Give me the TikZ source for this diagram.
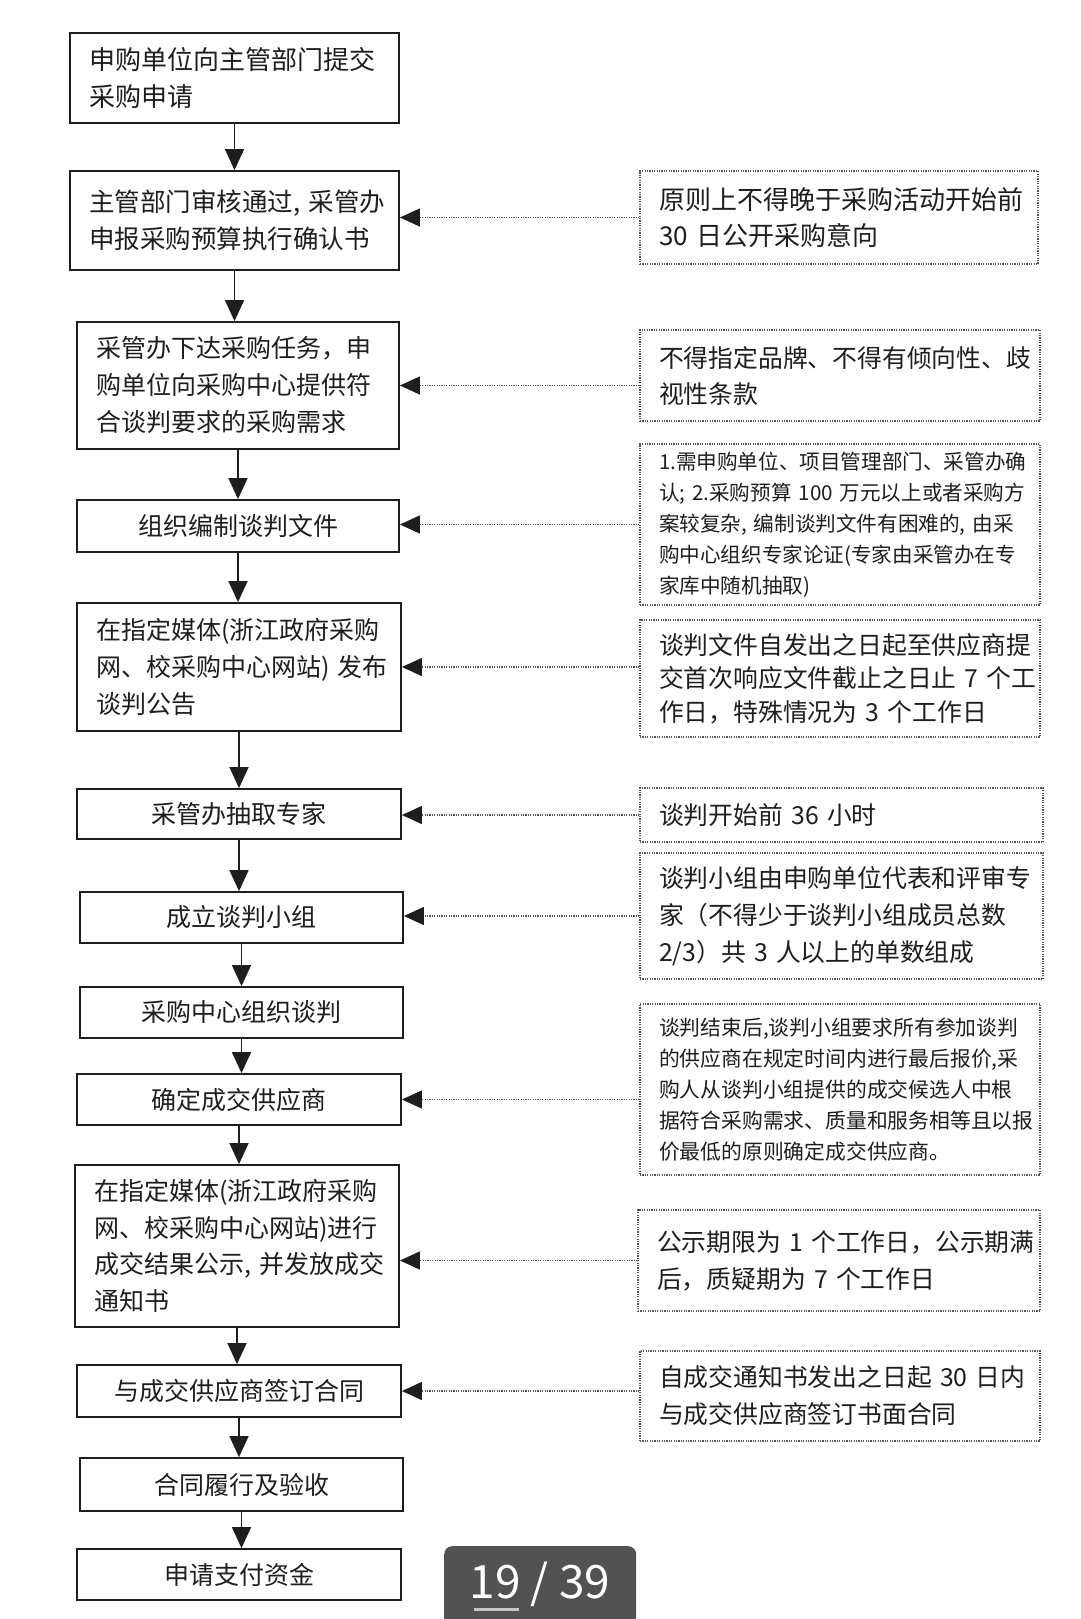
\documentclass[tikz,border=0pt]{standalone}
\usepackage{fontspec}
\setmainfont{Noto Sans CJK SC}
\usetikzlibrary{arrows.meta}
\definecolor{ink}{HTML}{1E1E1E}
\definecolor{dotc}{HTML}{555555}
\definecolor{pagebg}{HTML}{525252}
\tikzset{
  stepbox/.style={draw=ink, line width=1.8pt, text=ink, inner xsep=19pt, inner ysep=0pt, align=left, font=\fontsize{25}{37}\selectfont},
  onebox/.style={draw=ink, line width=1.8pt, text=ink, inner sep=0pt, align=center, font=\fontsize{25}{30}\selectfont},
  note/.style={draw=dotc, line width=1.2pt, dash pattern=on 1.2pt off 1.2pt, text=ink, inner xsep=19pt, inner ysep=0pt, align=left},
  flow/.style={draw=ink, line width=1.6pt, -{Triangle[length=21pt,width=19pt]}},
  link/.style={draw=dotc, line width=1.2pt, dash pattern=on 1.2pt off 1.2pt, -{Triangle[length=20pt,width=18pt,color=ink]}}
}
\begin{document}
\begin{tikzpicture}[x=1pt,y=-1pt]
\useasboundingbox (0,0) rectangle (1080,1619);
\fill[white] (0,0) rectangle (1080,1619);

% main steps
\node[stepbox, minimum width=329pt, minimum height=90pt, text width=291pt, font=\fontsize{26}{37}\selectfont] (b1) at (234.5,78) {申购单位向主管部门提交\\采购申请};
\node[stepbox, minimum width=329pt, minimum height=99pt, text width=291pt, font=\fontsize{25.5}{37}\selectfont] (b2) at (234.5,220.5) {主管部门审核通过,~采管办\\申报采购预算执行确认书};
\node[stepbox, minimum width=322pt, minimum height=127pt, text width=284pt] (b3) at (238,385.5) {采管办下达采购任务，申\\购单位向采购中心提供符\\合谈判要求的采购需求};
\node[onebox, minimum width=322pt, minimum height=52pt] (b4) at (238,526) {组织编制谈判文件};
\node[stepbox, minimum width=324pt, minimum height=128pt, text width=286pt] (b5) at (239,667) {在指定媒体(浙江政府采购\\网、校采购中心网站)~发布\\谈判公告};
\node[onebox, minimum width=324pt, minimum height=50pt] (b6) at (239,814) {采管办抽取专家};
\node[onebox, minimum width=323pt, minimum height=51pt] (b7) at (241.5,917.5) {成立谈判小组};
\node[onebox, minimum width=323pt, minimum height=51pt] (b8) at (241.5,1012.5) {采购中心组织谈判};
\node[onebox, minimum width=324pt, minimum height=51pt] (b9) at (239,1099.5) {确定成交供应商};
\node[stepbox, minimum width=324pt, minimum height=162pt, text width=286pt, font=\fontsize{25}{36.5}\selectfont] (b10) at (237,1246) {在指定媒体(浙江政府采购\\网、校采购中心网站)进行\\成交结果公示,~并发放成交\\通知书};
\node[onebox, minimum width=324pt, minimum height=52pt] (b11) at (239,1391) {与成交供应商签订合同};
\node[onebox, minimum width=323pt, minimum height=53pt] (b12) at (241.5,1484.5) {合同履行及验收};
\node[onebox, minimum width=324pt, minimum height=51pt] (b13) at (239,1574.5) {申请支付资金};

% notes
\node[note, minimum width=398pt, minimum height=93pt, text width=360pt, font=\fontsize{26}{36}\selectfont] (n1) at (839,217.5) {原则上不得晚于采购活动开始前\\30~日公开采购意向};
\node[note, minimum width=400pt, minimum height=91pt, text width=362pt, font=\fontsize{24.8}{36}\selectfont] (n2) at (840,375.5) {不得指定品牌、不得有倾向性、歧\\视性条款};
\node[note, minimum width=400pt, minimum height=161pt, text width=362pt, font=\fontsize{20.6}{31}\selectfont] (n3) at (840,524.5) {1.需申购单位、项目管理部门、采管办确\\认;~2.采购预算~100~万元以上或者采购方\\案较复杂,~编制谈判文件有困难的,~由采\\购中心组织专家论证(专家由采管办在专\\家库中随机抽取)};
\node[note, minimum width=400pt, minimum height=117pt, text width=362pt, font=\fontsize{24.8}{33.5}\selectfont] (n4) at (840,678.5) {谈判文件自发出之日起至供应商提\\交首次响应文件截止之日止~7~个工\\作日，特殊情况为~3~个工作日};
\node[note, minimum width=403pt, minimum height=54pt, text width=365pt, font=\fontsize{24.8}{30}\selectfont] (n5) at (841.5,815) {谈判开始前~36~小时};
\node[note, minimum width=403pt, minimum height=126pt, text width=365pt, font=\fontsize{24.8}{37}\selectfont] (n6) at (841.5,916) {谈判小组由申购单位代表和评审专\\家（不得少于谈判小组成员总数\\2/3）共~3~人以上的单数组成};
\node[note, minimum width=400pt, minimum height=171pt, text width=362pt, font=\fontsize{20.8}{31}\selectfont] (n7) at (840,1089.5) {谈判结束后,谈判小组要求所有参加谈判\\的供应商在规定时间内进行最后报价,采\\购人从谈判小组提供的成交候选人中根\\据符合采购需求、质量和服务相等且以报\\价最低的原则确定成交供应商。};
\node[note, minimum width=402pt, minimum height=101pt, text width=364pt, font=\fontsize{24.8}{37}\selectfont] (n8) at (839,1260.5) {公示期限为~1~个工作日，公示期满\\后，质疑期为~7~个工作日};
\node[note, minimum width=400pt, minimum height=90pt, text width=362pt, font=\fontsize{24.8}{37}\selectfont] (n9) at (840,1396) {自成交通知书发出之日起~30~日内\\与成交供应商签订书面合同};

% main flow
\draw[flow] (b1.south) -- (b1.south |- b2.north);
\draw[flow] (b2.south) -- (b2.south |- b3.north);
\draw[flow] (b3.south) -- (b3.south |- b4.north);
\draw[flow] (b4.south) -- (b4.south |- b5.north);
\draw[flow] (b5.south) -- (b5.south |- b6.north);
\draw[flow] (b6.south) -- (b6.south |- b7.north);
\draw[flow] (b7.south) -- (b7.south |- b8.north);
\draw[flow] (b8.south) -- (b8.south |- b9.north);
\draw[flow] (b9.south) -- (b9.south |- b10.north);
\draw[flow] (b10.south) -- (b10.south |- b11.north);
\draw[flow] (b11.south) -- (b11.south |- b12.north);
\draw[flow] (b12.south) -- (b12.south |- b13.north);

% note links
\draw[link] (n1.west) -- (n1.west -| b2.east);
\draw[link] (n2.west |- b3.east) -- (b3.east);
\draw[link] (n3.west) -- (n3.west -| b4.east);
\draw[link] (n4.west |- b5.east) -- (b5.east);
\draw[link] (n5.west) -- (n5.west -| b6.east);
\draw[link] (n6.west) -- (n6.west -| b7.east);
\draw[link] (n7.west |- b9.east) -- (b9.east);
\draw[link] (n8.west) -- (n8.west -| b10.east);
\draw[link] (n9.west |- b11.east) -- (b11.east);

% page indicator
\begin{scope}
\clip (0,0) rectangle (1080,1619);
\node[fill=pagebg, rounded corners=8pt, minimum width=192pt, minimum height=110pt, anchor=north west, inner sep=0pt] (pg) at (444,1546) {};
\end{scope}
\node[text=white, font=\fontsize{46}{46}\selectfont, inner sep=0pt] (pgt) at (540,1584) {19 / 39};
\draw[line width=3pt, gray!45] (474,1609) -- (519,1609);
\end{tikzpicture}
\end{document}
